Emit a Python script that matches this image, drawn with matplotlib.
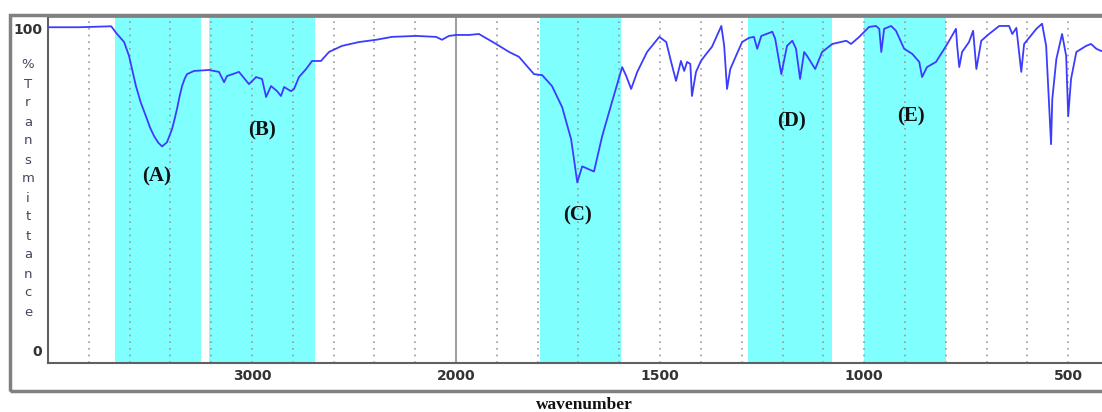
import numpy as np
import matplotlib.pyplot as plt
from matplotlib.patches import Rectangle

# spectrum: wavenumber (cm-1) and %T
wavenumber = [4000, 3850, 3690, 3667, 3627, 3603, 3590, 3569, 3545, 3520, 3500, 3480, 3460,
              3441, 3417, 3392, 3380, 3368, 3355, 3343, 3330, 3319, 3284, 3211, 3162,
              3137, 3123, 3064, 3015, 2980, 2951,
              2931, 2907, 2877, 2858, 2843, 2809, 2794, 2770, 2735, 2706, 2662, 2623,
              2559, 2475, 2392, 2314, 2196, 2098, 2069, 2035, 2000,
              1968, 1944, 1902, 1870, 1846, 1809, 1789, 1765, 1740, 1718, 1703, 1691,
              1662, 1642, 1618, 1593, 1583, 1571, 1556, 1532, 1502, 1485, 1473, 1461,
              1449, 1441, 1434, 1426, 1422, 1412, 1400, 1387, 1373, 1350, 1343, 1336,
              1328, 1314, 1299, 1282, 1270, 1262, 1252, 1225, 1218, 1203, 1189, 1176,
              1167, 1157, 1147, 1140, 1120, 1103, 1078, 1044, 1032, 1012, 988, 971,
              963, 958, 951, 934, 922, 902, 882, 865, 858, 846, 824, 799, 775, 772,
              767, 760, 743, 733, 725, 713, 694, 669, 645, 637, 627, 615, 608, 578,
              564, 554, 549, 542, 539, 529, 515, 505, 500, 493, 480, 456, 444, 431,
              419, 400]
transmittance = [100.5, 100.5, 100.8, 98.8, 95.9, 91.6, 88.0, 82.2, 77.0, 72.8, 69.3, 66.6, 64.6,
                 63.4, 64.7, 68.8, 71.8, 75.0, 79.0, 82.2, 84.5, 85.9, 86.9, 87.2, 86.6,
                 83.4, 85.3, 86.6, 82.8, 85.0, 84.4,
                 78.8, 82.2, 80.6, 79.1, 81.9, 80.6, 81.3, 85.0, 87.5, 90.0, 90.0, 92.8,
                 94.7, 95.9, 96.6, 97.5, 97.8, 97.5, 96.6, 97.8, 98.1,
                 98.1, 98.4, 95.3, 92.8, 91.3, 85.9, 85.6, 82.2, 75.6, 65.6, 52.2, 57.2,
                 55.6, 66.6, 77.2, 88.1, 85.3, 81.3, 86.6, 92.8, 97.5, 95.9, 89.7, 83.8,
                 90.0, 86.9, 89.7, 89.1, 79.1, 86.6, 90.0, 92.2, 94.4, 100.9, 94.7, 81.3,
                 87.5, 91.6, 95.9, 97.2, 97.5, 93.8, 97.8, 99.1, 96.9, 85.9, 94.7, 96.3,
                 93.8, 84.4, 92.8, 91.6, 87.5, 92.8, 95.3, 96.3, 95.3, 97.5, 100.6, 100.9,
                 100.0, 92.8, 100.0, 100.9, 99.4, 93.8, 92.2, 89.7, 85.0, 88.1, 89.7, 94.7, 100.0, 94.7,
                 88.1, 92.8, 95.9, 99.4, 87.5, 96.3, 98.4, 100.9, 100.9, 98.4, 100.3, 86.6, 95.3, 100.0,
                 101.6, 94.7, 82.2, 64.1, 78.1, 90.6, 98.4, 91.6, 72.8, 84.4, 92.8, 94.7, 95.3, 93.8,
                 93.1, 93.8]

# highlighted bands and their labels
band_ranges = [(3670, 3250), (3210, 2690), (1795, 1595), (1285, 1080), (1000, 800)]
band_labels = ['(A)', '(B)', '(C)', '(D)', '(E)']
label_pos = [(3466, 54.1), (2951, 68.4), (1703, 41.9), (1179, 71.3), (885, 72.8)]

xticks = [3000, 2000, 1500, 1000, 500]
grid_pos = list(range(3800, 2000, -200)) + list(range(1900, 400, -100))
ylabel_chars = list('%Transmittance')


def fwd(w):
    w = np.asarray(w, dtype=float)
    return np.where(w > 2000, 2000 + (w - 2000) / 2, w)


def inv(u):
    u = np.asarray(u, dtype=float)
    return np.where(u > 2000, 2000 + (u - 2000) * 2, u)


W, H = 1102, 412
fig = plt.figure(figsize=(W / 100, H / 100), dpi=100)
ax = fig.add_axes([48 / W, (H - 363) / H, (1109 - 48) / W, (363 - 16) / H])
ax.set_xscale('function', functions=(fwd, inv))
ax.set_xlim(4000, 400)
ax.set_ylim(-4, 104)

for (a, b) in band_ranges:
    ax.axvspan(a, b, color='#80ffff', lw=0, zorder=0)

for g in grid_pos:
    ax.axvline(g, color='#9a9a9a', lw=1.2, ls=(0, (1, 3)), zorder=1)
ax.axvline(2000, color='#a0a0a0', lw=1.5, zorder=1)

ax.plot(wavenumber, transmittance, color='#3c3cff', lw=1.3, zorder=3)

for lab, (lx, ly) in zip(band_labels, label_pos):
    ax.text(lx, ly, lab, ha='center', va='center', fontsize=15, fontweight='bold',
            family='Liberation Serif', color='#111111', zorder=4)

ax.set_xticks(xticks)
ax.set_xticklabels([str(t) for t in xticks])
ax.xaxis.set_minor_locator(plt.NullLocator())
ax.set_yticks([0, 100])
ax.set_yticklabels(['0', '100'])
ax.tick_params(length=0, labelsize=10, labelcolor='#333333', pad=4)
for lbl in ax.get_xticklabels() + ax.get_yticklabels():
    lbl.set_fontweight('bold')

for side in ['top', 'right']:
    ax.spines[side].set_visible(False)
ax.spines['left'].set_color('#606060')
ax.spines['left'].set_linewidth(1.5)
ax.spines['bottom'].set_color('#606060')
ax.spines['bottom'].set_linewidth(1.5)
ax.axhline(104, color='#888888', lw=2, clip_on=False)

for i, ch in enumerate(ylabel_chars):
    fig.text(28 / W, 1 - (65 + 19 * i) / H, ch, ha='center', va='center',
             fontsize=9.5, color='#46465e')

fig.text(584 / W, 1 - 405 / H, 'wavenumber', ha='center', va='center',
         fontsize=12.5, fontweight='bold', family='Liberation Serif', color='#111111')

fig.patches.append(Rectangle((10 / W, (H - 391) / H), 1.2, (391 - 15) / H,
                             transform=fig.transFigure, fill=False,
                             edgecolor='#808080', lw=2.5))

fig.savefig('out.png', dpi=100)
